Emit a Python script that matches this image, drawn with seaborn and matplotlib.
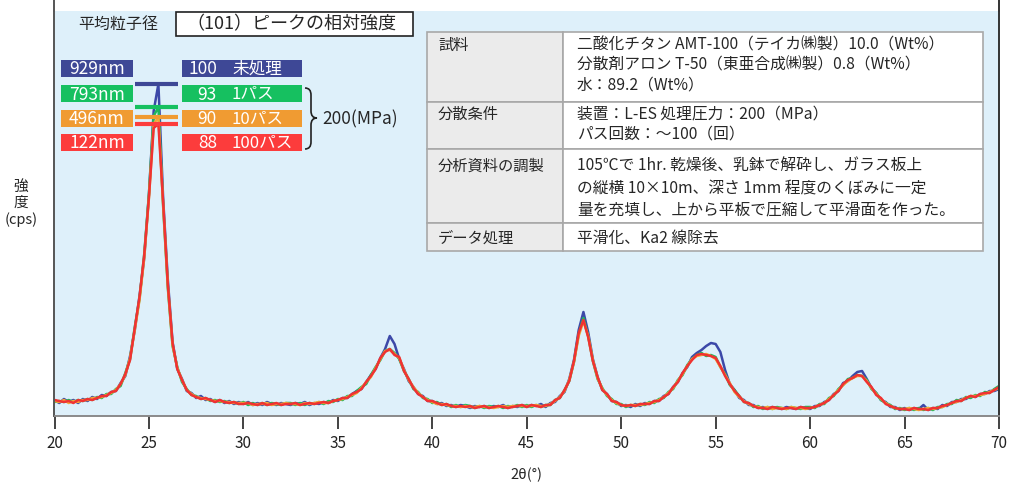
import pandas as pd
import seaborn as sns
import matplotlib.pyplot as plt
from matplotlib.patches import Rectangle, PathPatch
from matplotlib.path import Path
from matplotlib.lines import Line2D

# 2θ (0.25° step)
two_theta = [
    20.0, 20.25, 20.5, 20.75, 21.0, 21.25, 21.5, 21.75, 22.0, 22.25,
    22.5, 22.75, 23.0, 23.25, 23.5, 23.75, 24.0, 24.25, 24.5, 24.75,
    25.0, 25.25, 25.5, 25.75, 26.0, 26.25, 26.5, 26.75, 27.0, 27.25,
    27.5, 27.75, 28.0, 28.25, 28.5, 28.75, 29.0, 29.25, 29.5, 29.75,
    30.0, 30.25, 30.5, 30.75, 31.0, 31.25, 31.5, 31.75, 32.0, 32.25,
    32.5, 32.75, 33.0, 33.25, 33.5, 33.75, 34.0, 34.25, 34.5, 34.75,
    35.0, 35.25, 35.5, 35.75, 36.0, 36.25, 36.5, 36.75, 37.0, 37.25,
    37.5, 37.75, 38.0, 38.25, 38.5, 38.75, 39.0, 39.25, 39.5, 39.75,
    40.0, 40.25, 40.5, 40.75, 41.0, 41.25, 41.5, 41.75, 42.0, 42.25,
    42.5, 42.75, 43.0, 43.25, 43.5, 43.75, 44.0, 44.25, 44.5, 44.75,
    45.0, 45.25, 45.5, 45.75, 46.0, 46.25, 46.5, 46.75, 47.0, 47.25,
    47.5, 47.75, 48.0, 48.25, 48.5, 48.75, 49.0, 49.25, 49.5, 49.75,
    50.0, 50.25, 50.5, 50.75, 51.0, 51.25, 51.5, 51.75, 52.0, 52.25,
    52.5, 52.75, 53.0, 53.25, 53.5, 53.75, 54.0, 54.25, 54.5, 54.75,
    55.0, 55.25, 55.5, 55.75, 56.0, 56.25, 56.5, 56.75, 57.0, 57.25,
    57.5, 57.75, 58.0, 58.25, 58.5, 58.75, 59.0, 59.25, 59.5, 59.75,
    60.0, 60.25, 60.5, 60.75, 61.0, 61.25, 61.5, 61.75, 62.0, 62.25,
    62.5, 62.75, 63.0, 63.25, 63.5, 63.75, 64.0, 64.25, 64.5, 64.75,
    65.0, 65.25, 65.5, 65.75, 66.0, 66.25, 66.5, 66.75, 67.0, 67.25,
    67.5, 67.75, 68.0, 68.25, 68.5, 68.75, 69.0, 69.25, 69.5, 69.75,
    70.0,
]

# 強度 (読み取り値, 任意単位)
untreated = [
    16, 13, 17, 14, 16, 13, 17, 15, 19, 17,
    21, 20, 24, 25, 33, 40, 60, 86, 120, 158,
    222, 305, 332, 218, 136, 74, 47, 37, 25, 23,
    18, 20, 16, 17, 14, 16, 13, 15, 12, 14,
    12, 14, 11, 13, 11, 14, 12, 11, 13, 12,
    11, 13, 12, 14, 11, 13, 12, 14, 13, 16,
    15, 18, 18, 22, 25, 27, 34, 41, 47, 58,
    67, 80, 72, 57, 47, 35, 29, 22, 20, 15,
    15, 12, 13, 10, 11, 9, 11, 10, 8, 10,
    9, 10, 8, 10, 9, 11, 8, 10, 9, 11,
    9, 11, 10, 12, 9, 13, 14, 20, 24, 37,
    56, 86, 104, 84, 57, 39, 26, 22, 15, 14,
    10, 11, 9, 12, 10, 13, 12, 15, 15, 20,
    22, 29, 34, 43, 49, 59, 63, 66, 70, 73,
    72, 64, 46, 32, 26, 18, 16, 11, 11, 8,
    9, 7, 9, 8, 7, 9, 8, 7, 9, 8,
    7, 10, 10, 14, 16, 22, 25, 33, 35, 40,
    44, 45, 37, 28, 23, 16, 14, 9, 9, 6,
    8, 6, 8, 7, 11, 6, 8, 7, 11, 10,
    14, 14, 17, 17, 20, 19, 22, 22, 25, 25,
    27,
]
pass_1 = [
    14, 15, 14, 16, 14, 16, 15, 17, 16, 19,
    18, 22, 22, 27, 30, 43, 57, 89, 117, 162,
    222, 300, 309, 210, 128, 70, 49, 34, 27, 21,
    20, 17, 18, 15, 16, 14, 15, 13, 14, 12,
    14, 11, 13, 11, 13, 11, 13, 12, 11, 13,
    13, 11, 13, 11, 13, 12, 14, 12, 15, 14,
    17, 16, 20, 20, 25, 29, 32, 41, 49, 56,
    65, 67, 63, 57, 45, 37, 27, 24, 18, 17,
    13, 14, 11, 12, 9, 11, 9, 11, 10, 8,
    10, 8, 10, 9, 10, 8, 10, 9, 11, 9,
    11, 9, 11, 9, 11, 11, 16, 18, 26, 35,
    54, 82, 98, 80, 55, 37, 28, 20, 17, 12,
    12, 9, 11, 10, 12, 11, 14, 13, 17, 18,
    24, 27, 36, 41, 51, 57, 61, 63, 60, 61,
    59, 49, 42, 31, 26, 20, 14, 13, 9, 10,
    7, 9, 7, 9, 8, 7, 9, 8, 7, 9,
    9, 8, 12, 12, 18, 20, 27, 31, 37, 38,
    41, 40, 36, 27, 23, 16, 13, 11, 7, 8,
    6, 8, 6, 8, 6, 8, 6, 9, 9, 12,
    12, 16, 15, 19, 18, 21, 20, 24, 23, 27,
    30,
]
pass_10 = [
    15, 14, 16, 13, 15, 14, 16, 16, 18, 18,
    19, 21, 23, 26, 32, 41, 58, 86, 116, 158,
    218, 292, 299, 212, 130, 71, 48, 36, 26, 22,
    19, 18, 17, 16, 15, 15, 14, 14, 13, 13,
    13, 13, 11, 12, 12, 13, 11, 12, 12, 13,
    12, 12, 11, 13, 12, 13, 14, 13, 13, 15,
    16, 17, 19, 21, 23, 28, 34, 39, 48, 57,
    65, 66, 62, 58, 46, 36, 29, 23, 19, 16,
    14, 12, 12, 11, 10, 10, 9, 10, 9, 9,
    10, 9, 9, 8, 9, 10, 9, 10, 10, 10,
    10, 10, 11, 10, 10, 12, 15, 19, 25, 36,
    54, 80, 95, 80, 56, 38, 27, 21, 16, 13,
    11, 10, 11, 11, 11, 12, 13, 14, 16, 19,
    23, 28, 35, 42, 50, 57, 60, 61, 62, 60,
    57, 49, 41, 33, 24, 19, 15, 12, 10, 9,
    8, 9, 7, 8, 8, 7, 9, 8, 8, 7,
    8, 9, 11, 13, 17, 21, 26, 31, 35, 38,
    40, 40, 35, 28, 22, 17, 13, 10, 8, 7,
    7, 8, 7, 6, 7, 8, 7, 8, 9, 11,
    13, 14, 16, 18, 20, 20, 21, 22, 24, 26,
    28,
]
pass_100 = [
    16, 15, 14, 15, 13, 16, 15, 17, 16, 18,
    20, 20, 24, 25, 32, 42, 56, 88, 119, 161,
    219, 288, 292, 214, 131, 73, 47, 36, 26, 21,
    19, 17, 18, 16, 14, 16, 14, 13, 14, 12,
    12, 13, 12, 11, 13, 11, 12, 13, 11, 12,
    12, 13, 11, 12, 13, 12, 13, 14, 13, 15,
    16, 18, 18, 22, 24, 27, 34, 40, 47, 58,
    64, 67, 61, 59, 45, 37, 28, 22, 19, 15,
    15, 13, 11, 12, 10, 9, 10, 9, 10, 8,
    9, 10, 8, 9, 10, 9, 8, 9, 10, 11,
    9, 11, 10, 9, 11, 11, 16, 18, 26, 35,
    55, 83, 96, 79, 55, 39, 26, 22, 15, 14,
    11, 10, 11, 10, 12, 12, 12, 15, 15, 19,
    22, 29, 34, 43, 50, 56, 61, 62, 61, 60,
    58, 50, 40, 32, 25, 20, 14, 13, 10, 8,
    8, 7, 9, 8, 7, 8, 8, 7, 9, 8,
    8, 9, 11, 13, 16, 21, 25, 32, 36, 38,
    41, 40, 34, 29, 21, 18, 12, 10, 8, 7,
    7, 6, 8, 7, 7, 6, 8, 8, 10, 11,
    13, 15, 15, 18, 20, 19, 22, 23, 23, 26,
    29,
]

conditions = ['未処理', '1パス', '10パス', '100パス']
sizes = ['929nm', '793nm', '496nm', '122nm']
rel_intensity = ['100', '93', '90', '88']

table_heads = ['試料', '分散条件', '分析資料の調製', 'データ処理']
table_bodies = [
    ['二酸化チタン AMT-100（テイカ㈱製）10.0（Wt%）',
     '分散剤アロン T-50（東亜合成㈱製）0.8（Wt%）',
     '水：89.2（Wt%）'],
    ['装置：L-ES 処理圧力：200（MPa）',
     'パス回数：～100（回）'],
    ['105℃で 1hr. 乾燥後、乳鉢で解砕し、ガラス板上',
     'の縦横 10×10m、深さ 1mm 程度のくぼみに一定',
     '量を充填し、上から平板で圧縮して平滑面を作った。'],
    ['平滑化、Ka2 線除去'],
]

line_colors = ['#3c48a8', '#1fb85c', '#f2a838', '#f03232']
box_colors = ['#3e4896', '#16c060', '#f09b32', '#fc3c3c']

df = pd.DataFrame({
    'two_theta': two_theta * 4,
    'intensity': untreated + pass_1 + pass_10 + pass_100,
    'cond': sum([[c] * len(two_theta) for c in conditions], []),
})

sns.set_theme(style='white')
plt.rcParams['font.family'] = ['Noto Sans CJK JP', 'DejaVu Sans']

W, H = 1012, 485
fig = plt.figure(figsize=(W / 100, H / 100), dpi=100)


def fx(px):
    return px / W


def fy(py):
    return 1 - py / H


ax = fig.add_axes([fx(54.5), fy(417), (999 - 54.5) / W, (417 - 12) / H])
ax.set_facecolor('#def0fa')

sns.lineplot(data=df, x='two_theta', y='intensity', hue='cond',
             hue_order=conditions, palette=line_colors, estimator=None,
             linewidth=1.8, legend=False, ax=ax)

# 主ピーク高さの目印
for series, col in zip([untreated, pass_1, pass_10, pass_100], box_colors):
    ax.hlines(max(series), 24.26, 26.54, color=col, linewidth=3)

ax.set_xlim(20, 70)
ax.set_ylim(0, 405)
ax.set_xticks([20, 25, 30, 35, 40, 45, 50, 55, 60, 65, 70])
ax.set_yticks([])
ax.tick_params(axis='x', direction='out', length=9, width=1.2, pad=4,
               labelsize=11, colors='#222222', bottom=True)
ax.set_xlabel('2θ(°)', fontsize=10.5, labelpad=11)
ax.set_ylabel('')
ax.spines['top'].set_visible(False)
ax.spines['left'].set_color('#555555')
ax.spines['right'].set_color('#333333')
ax.spines['bottom'].set_color('#8a8a8a')
for s in ['left', 'right', 'bottom']:
    ax.spines[s].set_linewidth(1.4)

# 枠線を上端まで延ばす
fig.add_artist(Line2D([fx(54.5)] * 2, [fy(12), fy(0)], color='#555555', lw=1.4))
fig.add_artist(Line2D([fx(999)] * 2, [fy(12), fy(0)], color='#333333', lw=1.4))

fig.text(fx(21), fy(187), '強', ha='center', va='center', fontsize=10.5)
fig.text(fx(21), fy(203), '度', ha='center', va='center', fontsize=10.5)
fig.text(fx(21), fy(220), '(cps)', ha='center', va='center', fontsize=10.5)

# タイトル部分
fig.text(fx(118), fy(24), '平均粒子径', ha='center', va='center', fontsize=11.5)
fig.add_artist(Rectangle((fx(176), fy(37)), (413 - 176) / W, 24 / H,
                         transform=fig.transFigure, facecolor='white',
                         edgecolor='#222222', lw=1.2))
fig.text(fx(291), fy(24.5), '（101）ピークの相対強度', ha='center', va='center',
         fontsize=13)

# 凡例ボックス
box_tops = [61, 86, 111, 135]
for top, col, sz, ri, cond in zip(box_tops, box_colors, sizes, rel_intensity, conditions):
    fig.add_artist(Rectangle((fx(61), fy(top + 17)), 72 / W, 17 / H,
                             transform=fig.transFigure, facecolor=col, lw=0))
    fig.add_artist(Rectangle((fx(182), fy(top + 17)), 120 / W, 17 / H,
                             transform=fig.transFigure, facecolor=col, lw=0))
    fig.text(fx(97), fy(top + 8.5), sz, ha='center', va='center',
             color='white', fontsize=12.5)
    fig.text(fx(217), fy(top + 8.5), ri, ha='right', va='center',
             color='white', fontsize=12.5)
    fig.text(fx(232), fy(top + 8.5), cond, ha='left', va='center',
             color='white', fontsize=12)

# 中括弧
brace = [(305, 89), (311, 89), (311, 96), (311, 112), (311, 119), (317, 119),
         (311, 119), (311, 126), (311, 143), (311, 150), (305, 150)]
codes = [Path.MOVETO, Path.CURVE3, Path.CURVE3, Path.LINETO, Path.CURVE3,
         Path.CURVE3, Path.CURVE3, Path.CURVE3, Path.LINETO, Path.CURVE3, Path.CURVE3]
fig.add_artist(PathPatch(Path([(fx(a), fy(b)) for a, b in brace], codes),
                         transform=fig.transFigure, fill=False, lw=1.2,
                         edgecolor='#222222'))
fig.text(fx(322), fy(119), '200(MPa)', ha='left', va='center', fontsize=12.5)

# 条件表
t_left, t_mid, t_right = 427, 563, 983
row_edges = [33, 103, 150, 224, 252]
line_pos = [[45, 65, 85], [114, 134], [166, 188, 210], [238]]
for i, (head, body) in enumerate(zip(table_heads, table_bodies)):
    top, bot = row_edges[i], row_edges[i + 1]
    fig.add_artist(Rectangle((fx(t_left), fy(bot)), (t_mid - t_left) / W, (bot - top) / H,
                             transform=fig.transFigure, facecolor='#ebebeb',
                             edgecolor='#a8a8a8', lw=1.2))
    fig.add_artist(Rectangle((fx(t_mid), fy(bot)), (t_right - t_mid) / W, (bot - top) / H,
                             transform=fig.transFigure, facecolor='white',
                             edgecolor='#a8a8a8', lw=1.2))
    fig.text(fx(438), fy(line_pos[i][0]), head, ha='left', va='center', fontsize=11)
    for yy, txt in zip(line_pos[i], body):
        fig.text(fx(577), fy(yy), txt, ha='left', va='center', fontsize=11.3)

fig.savefig('out.png', dpi=100)
